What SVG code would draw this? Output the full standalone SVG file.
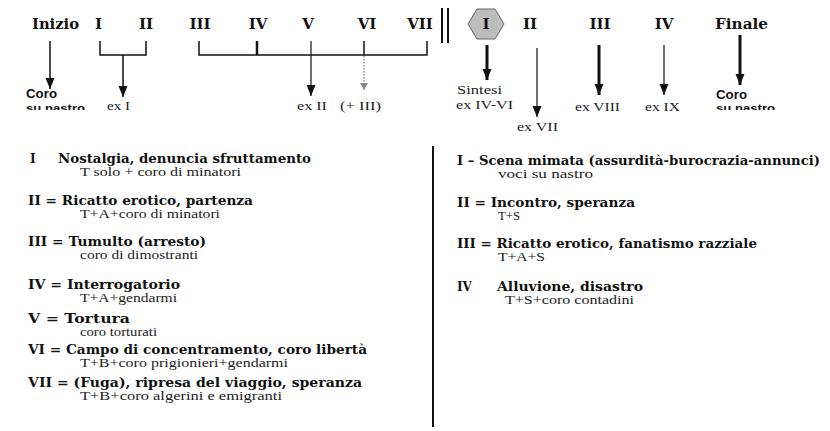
<svg xmlns="http://www.w3.org/2000/svg" width="830" height="431" viewBox="0 0 830 431">
  <style>
    .bg { fill: #ffffff; }
    .top { font-family: "DejaVu Serif", "Liberation Serif", serif; font-weight: bold; font-size: 15px; fill: #111; }
    .lbl { font-family: "Liberation Serif", "DejaVu Serif", serif; font-size: 13px; fill: #222; }
    .coro { font-family: "Liberation Sans", "DejaVu Sans", sans-serif; font-weight: bold; font-size: 12px; fill: #111; }
    .nastro { font-family: "Liberation Sans", "DejaVu Sans", sans-serif; font-weight: bold; font-size: 11px; fill: #111; }
    .head { font-family: "DejaVu Serif", "Liberation Serif", serif; font-weight: bold; font-size: 12px; fill: #111; }
    .sub { font-family: "Liberation Serif", "DejaVu Serif", serif; font-size: 11.5px; fill: #222; }
    .ln { stroke: #111; fill: none; stroke-width: 1.5; }
    .thin { stroke: #111; fill: none; stroke-width: 1.2; }
    .thick { stroke: #111; fill: none; stroke-width: 3; }
    .dot { stroke: #777; fill: none; stroke-width: 1.2; stroke-dasharray: 1.5 1.5; }
  </style>
  <defs>
    <!-- arrowhead drawn along +x so orient="auto" turns it with the line -->
    <marker id="head" markerUnits="userSpaceOnUse" markerWidth="12" markerHeight="10" refX="11" refY="5" orient="auto" viewBox="0 0 12 10">
      <path d="M0,0.5 L11,5 L0,9.5 Z" fill="#111"/>
    </marker>
    <marker id="headSmall" markerUnits="userSpaceOnUse" markerWidth="8" markerHeight="8" refX="7" refY="4" orient="auto" viewBox="0 0 8 8">
      <path d="M0,0 L7,4 L0,8 Z" fill="#888"/>
    </marker>
    <clipPath id="cutLeft"><rect x="20" y="100" width="80" height="10"/></clipPath>
    <clipPath id="cutRight"><rect x="700" y="100" width="80" height="10"/></clipPath>
  </defs>

  <rect class="bg" x="0" y="0" width="830" height="431"/>

  <!-- first-act sequence -->
  <g id="n-inizio"><text class="top" x="32" y="29" textLength="47" lengthAdjust="spacingAndGlyphs">Inizio</text></g>
  <g id="n-a1-1"><text class="top" x="98.5" y="29" text-anchor="middle">I</text></g>
  <g id="n-a1-2"><text class="top" x="146" y="29" text-anchor="middle">II</text></g>
  <g id="n-a1-3"><text class="top" x="200" y="29" text-anchor="middle">III</text></g>
  <g id="n-a1-4"><text class="top" x="258" y="29" text-anchor="middle">IV</text></g>
  <g id="n-a1-5"><text class="top" x="308" y="29" text-anchor="middle">V</text></g>
  <g id="n-a1-6"><text class="top" x="367" y="29" text-anchor="middle">VI</text></g>
  <g id="n-a1-7"><text class="top" x="420" y="29" text-anchor="middle">VII</text></g>

  <!-- interval bar -->
  <g id="n-bar">
    <line x1="442" y1="8" x2="442" y2="43" stroke="#111" stroke-width="2"/>
    <line x1="448" y1="8" x2="448" y2="43" stroke="#111" stroke-width="2"/>
  </g>

  <!-- second-act sequence -->
  <g id="n-a2-1">
    <polygon points="477,9 495,9 504,24 495,39 477,39 468,24" fill="#bdbdbd" stroke="#666" stroke-width="1"/>
    <text class="top" x="486" y="29" text-anchor="middle">I</text>
  </g>
  <g id="n-a2-2"><text class="top" x="530" y="29" text-anchor="middle">II</text></g>
  <g id="n-a2-3"><text class="top" x="600" y="29" text-anchor="middle">III</text></g>
  <g id="n-a2-4"><text class="top" x="664" y="29" text-anchor="middle">IV</text></g>
  <g id="n-finale"><text class="top" x="715" y="29" textLength="53" lengthAdjust="spacingAndGlyphs">Finale</text></g>

  <!-- targets under the arrows -->
  <g id="t-coro-1">
    <text class="coro" x="26" y="98" textLength="31" lengthAdjust="spacingAndGlyphs">Coro</text>
    <text class="nastro" x="26" y="112" textLength="59" lengthAdjust="spacingAndGlyphs" clip-path="url(#cutLeft)">su nastro</text>
  </g>
  <g id="t-ex1"><text class="lbl" x="107" y="110" textLength="23" lengthAdjust="spacingAndGlyphs">ex I</text></g>
  <g id="t-ex2"><text class="lbl" x="297" y="110" textLength="30" lengthAdjust="spacingAndGlyphs">ex II</text></g>
  <g id="t-ex3"><text class="lbl" x="340" y="110" textLength="41" lengthAdjust="spacingAndGlyphs">(+ III)</text></g>
  <g id="t-sintesi">
    <text class="lbl" x="457" y="94" textLength="45" lengthAdjust="spacingAndGlyphs">Sintesi</text>
    <text class="lbl" x="456" y="109" textLength="57" lengthAdjust="spacingAndGlyphs">ex IV-VI</text>
  </g>
  <g id="t-ex7"><text class="lbl" x="517" y="131" textLength="41" lengthAdjust="spacingAndGlyphs">ex VII</text></g>
  <g id="t-ex8"><text class="lbl" x="575" y="111" textLength="45" lengthAdjust="spacingAndGlyphs">ex VIII</text></g>
  <g id="t-ex9"><text class="lbl" x="645" y="111" textLength="35" lengthAdjust="spacingAndGlyphs">ex IX</text></g>
  <g id="t-coro-2">
    <text class="coro" x="716" y="99" textLength="31" lengthAdjust="spacingAndGlyphs">Coro</text>
    <text class="nastro" x="716" y="112" textLength="59" lengthAdjust="spacingAndGlyphs" clip-path="url(#cutRight)">su nastro</text>
  </g>

  <!-- connectors -->
  <g id="connectors">
    <line class="ln" x1="50" y1="41" x2="50" y2="89" marker-end="url(#head)"/>
    <!-- bracket I-II -->
    <polyline class="ln" points="100,41 100,55 146,55 146,41"/>
    <line class="ln" x1="123" y1="55" x2="123" y2="97" marker-end="url(#head)"/>
    <!-- bracket III-VII -->
    <polyline class="ln" points="199,41 199,55 427,55 427,41"/>
    <line x1="257" y1="41" x2="257" y2="55" stroke="#111" stroke-width="2.5"/>
    <line class="thin" x1="311" y1="41" x2="311" y2="96" marker-end="url(#head)"/>
    <line class="ln" x1="364" y1="41" x2="364" y2="55"/>
    <line class="dot" x1="364" y1="56" x2="364" y2="90" marker-end="url(#headSmall)"/>
    <!-- second act -->
    <line class="thick" x1="487" y1="45" x2="487" y2="80" marker-end="url(#head)"/>
    <line class="thin" x1="537" y1="48" x2="537" y2="117" marker-end="url(#head)"/>
    <line class="thick" x1="599" y1="45" x2="599" y2="95" marker-end="url(#head)"/>
    <line class="thin" x1="664" y1="45" x2="664" y2="95" marker-end="url(#head)"/>
    <line class="thick" x1="740" y1="35" x2="740" y2="85" marker-end="url(#head)"/>
  </g>

  <!-- first-act scene list -->
  <g id="list-act1">
    <text class="head" x="30" y="163">I</text>
    <text class="head" x="58" y="163" textLength="253" lengthAdjust="spacingAndGlyphs">Nostalgia, denuncia sfruttamento</text>
    <text class="sub" x="80" y="176" textLength="161" lengthAdjust="spacingAndGlyphs">T solo + coro di minatori</text>

    <text class="head" x="28" y="205" textLength="225" lengthAdjust="spacingAndGlyphs">II = Ricatto erotico, partenza</text>
    <text class="sub" x="80" y="218" textLength="140" lengthAdjust="spacingAndGlyphs">T+A+coro di minatori</text>

    <text class="head" x="28" y="246" textLength="178" lengthAdjust="spacingAndGlyphs">III = Tumulto (arresto)</text>
    <text class="sub" x="80" y="259" textLength="118" lengthAdjust="spacingAndGlyphs">coro di dimostranti</text>

    <text class="head" x="28" y="289" textLength="152" lengthAdjust="spacingAndGlyphs">IV = Interrogatorio</text>
    <text class="sub" x="80" y="302" textLength="97" lengthAdjust="spacingAndGlyphs">T+A+gendarmi</text>

    <text class="head" x="28" y="323" textLength="102" lengthAdjust="spacingAndGlyphs">V = Tortura</text>
    <text class="sub" x="80" y="336" textLength="77" lengthAdjust="spacingAndGlyphs">coro torturati</text>

    <text class="head" x="28" y="354" textLength="339" lengthAdjust="spacingAndGlyphs">VI = Campo di concentramento, coro libertà</text>
    <text class="sub" x="80" y="367" textLength="208" lengthAdjust="spacingAndGlyphs">T+B+coro prigionieri+gendarmi</text>

    <text class="head" x="28" y="387" textLength="334" lengthAdjust="spacingAndGlyphs">VII = (Fuga), ripresa del viaggio, speranza</text>
    <text class="sub" x="80" y="400" textLength="202" lengthAdjust="spacingAndGlyphs">T+B+coro algerini e emigranti</text>
  </g>

  <!-- divider between the two lists -->
  <line x1="433" y1="146" x2="433" y2="427" stroke="#111" stroke-width="2"/>

  <!-- second-act scene list -->
  <g id="list-act2">
    <text class="head" x="457" y="165" textLength="363" lengthAdjust="spacingAndGlyphs">I – Scena mimata (assurdità-burocrazia-annunci)</text>
    <text class="sub" x="498" y="178" textLength="95" lengthAdjust="spacingAndGlyphs">voci su nastro</text>

    <text class="head" x="457" y="207" textLength="178" lengthAdjust="spacingAndGlyphs">II = Incontro, speranza</text>
    <text class="sub" x="498" y="220" textLength="22" lengthAdjust="spacingAndGlyphs">T+S</text>

    <text class="head" x="457" y="248" textLength="300" lengthAdjust="spacingAndGlyphs">III = Ricatto erotico, fanatismo razziale</text>
    <text class="sub" x="498" y="261" textLength="47" lengthAdjust="spacingAndGlyphs">T+A+S</text>

    <text class="head" x="457" y="291">IV</text>
    <text class="head" x="497" y="291" textLength="146" lengthAdjust="spacingAndGlyphs">Alluvione, disastro</text>
    <text class="sub" x="505" y="304" textLength="129" lengthAdjust="spacingAndGlyphs">T+S+coro contadini</text>
  </g>
</svg>
